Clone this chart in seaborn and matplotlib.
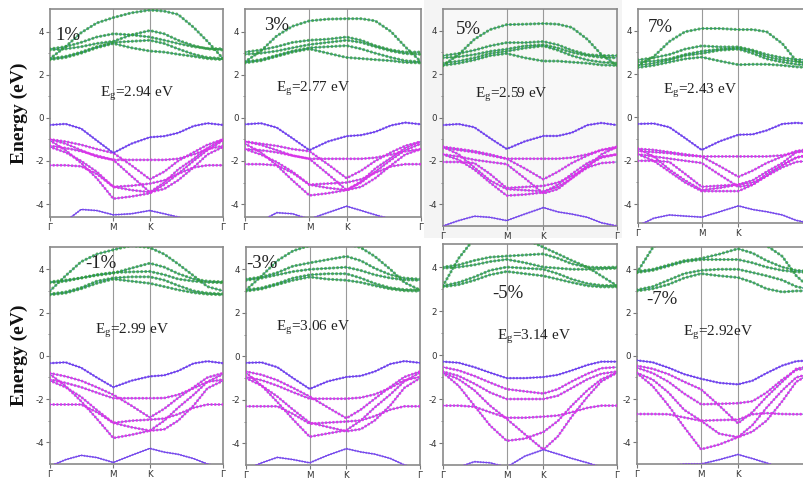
import matplotlib
matplotlib.use("Agg")
import matplotlib.pyplot as plt
import seaborn as sns
import pandas as pd
from matplotlib.patches import Rectangle

# ---------------- data ----------------
k_nodes = [0, 0.09, 0.18, 0.27, 0.366, 0.47, 0.577, 0.66, 0.74, 0.83, 0.91, 1.0]
hs_labels = ["Γ", "M", "K", "Γ"]
hs_pos = [0, 0.366, 0.577, 1.0]
strain_labels = ["1%", "3%", "5%", "7%", "-1%", "-3%", "-5%", "-7%"]
gap_values = ["2.94 eV", "2.77 eV", "2.59 eV", "2.43 eV", "2.99 eV", "3.06 eV", "3.14 eV", "2.92eV"]

# panel 1 (1%)
cb_1 = [[2.75, 3.3, 3.95, 4.4, 4.65, 4.87, 5.0, 4.95, 4.8, 4.2, 3.55, 2.75],
        [3.2, 3.3, 3.5, 3.75, 3.9, 3.85, 3.75, 3.6, 3.45, 3.3, 3.22, 3.2],
        [3.15, 3.2, 3.3, 3.45, 3.55, 3.85, 4.05, 3.9, 3.6, 3.35, 3.2, 3.15],
        [2.75, 2.85, 3.05, 3.3, 3.5, 3.55, 3.6, 3.45, 3.2, 2.95, 2.8, 2.75],
        [2.7, 2.8, 3.0, 3.25, 3.45, 3.25, 3.1, 3.05, 2.95, 2.85, 2.75, 2.7]]
vt_1 = [-0.33, -0.28, -0.5, -1.05, -1.63, -1.2, -0.9, -0.85, -0.7, -0.38, -0.25, -0.33]
vb_1 = [[-1.0, -1.1, -1.25, -1.45, -1.63, -2.2, -2.85, -2.5, -2.0, -1.6, -1.25, -1.0],
        [-1.3, -1.4, -1.55, -1.75, -1.95, -1.95, -1.95, -1.95, -1.9, -1.7, -1.45, -1.3],
        [-2.2, -2.2, -2.25, -2.6, -3.2, -3.15, -3.05, -2.9, -2.6, -2.3, -2.2, -2.2],
        [-1.05, -1.5, -2.1, -2.8, -3.75, -3.65, -3.5, -3.1, -2.6, -2.0, -1.5, -1.05],
        [-1.35, -1.6, -2.0, -2.5, -3.2, -3.35, -3.45, -3.3, -2.9, -2.3, -1.7, -1.35],
        [-1.0, -1.2, -1.5, -1.8, -1.95, -2.7, -3.45, -3.0, -2.4, -1.9, -1.4, -1.0]]
low_1 = [-5.2, -4.8, -4.25, -4.3, -4.5, -4.45, -4.3, -4.45, -4.6, -4.8, -5.0, -5.2]

# panel 2 (3%)
cb_2 = [[2.6, 3.1, 3.8, 4.25, 4.5, 4.58, 4.6, 4.6, 4.5, 4.0, 3.3, 2.6],
        [3.05, 3.15, 3.3, 3.5, 3.6, 3.65, 3.75, 3.6, 3.35, 3.15, 3.05, 3.05],
        [2.95, 3.0, 3.1, 3.25, 3.4, 3.5, 3.6, 3.5, 3.3, 3.1, 2.98, 2.95],
        [2.6, 2.7, 2.9, 3.1, 3.25, 3.3, 3.35, 3.2, 3.0, 2.8, 2.65, 2.6],
        [2.55, 2.65, 2.85, 3.05, 3.2, 3.0, 2.8, 2.75, 2.7, 2.65, 2.57, 2.55]]
vt_2 = [-0.3, -0.25, -0.45, -0.95, -1.5, -1.1, -0.85, -0.8, -0.65, -0.35, -0.22, -0.3]
vb_2 = [[-1.1, -1.2, -1.3, -1.45, -1.55, -2.15, -2.8, -2.45, -2.0, -1.6, -1.3, -1.1],
        [-1.45, -1.5, -1.6, -1.75, -1.9, -1.9, -1.9, -1.9, -1.85, -1.7, -1.55, -1.45],
        [-2.15, -2.15, -2.2, -2.55, -3.1, -3.05, -3.0, -2.85, -2.55, -2.25, -2.15, -2.15],
        [-1.2, -1.6, -2.2, -2.9, -3.6, -3.5, -3.35, -3.0, -2.5, -1.95, -1.5, -1.2],
        [-1.45, -1.7, -2.05, -2.5, -3.1, -3.25, -3.35, -3.2, -2.8, -2.2, -1.7, -1.45],
        [-1.1, -1.25, -1.5, -1.75, -1.9, -2.6, -3.35, -2.95, -2.35, -1.85, -1.4, -1.1]]
low_2 = [-5.2, -4.8, -4.4, -4.45, -4.7, -4.4, -4.1, -4.3, -4.5, -4.7, -5.0, -5.2]

# panel 3 (5%)
cb_3 = [[2.4, 2.9, 3.6, 4.05, 4.28, 4.3, 4.33, 4.3, 4.15, 3.6, 2.9, 2.4],
        [2.85, 2.95, 3.1, 3.3, 3.45, 3.45, 3.5, 3.35, 3.1, 2.9, 2.85, 2.85],
        [2.75, 2.8, 2.9, 3.05, 3.15, 3.3, 3.35, 3.2, 3.0, 2.85, 2.77, 2.75],
        [2.5, 2.6, 2.75, 2.95, 3.05, 3.2, 3.3, 3.1, 2.85, 2.65, 2.55, 2.5],
        [2.4, 2.5, 2.65, 2.85, 2.95, 2.75, 2.6, 2.6, 2.55, 2.5, 2.42, 2.4]]
vt_3 = [-0.35, -0.3, -0.45, -0.95, -1.45, -1.1, -0.85, -0.85, -0.7, -0.35, -0.25, -0.35]
vb_3 = [[-1.35, -1.45, -1.55, -1.7, -1.9, -2.35, -2.85, -2.5, -2.1, -1.75, -1.5, -1.35],
        [-1.4, -1.5, -1.6, -1.75, -1.9, -1.9, -1.9, -1.9, -1.85, -1.7, -1.5, -1.4],
        [-2.05, -2.05, -2.1, -2.6, -3.25, -3.2, -3.15, -3.0, -2.7, -2.3, -2.1, -2.05],
        [-1.7, -1.95, -2.4, -3.0, -3.6, -3.55, -3.45, -3.1, -2.6, -2.1, -1.8, -1.7],
        [-1.7, -1.8, -1.95, -2.05, -2.15, -2.8, -3.5, -3.3, -2.8, -2.2, -1.85, -1.7],
        [-1.35, -1.7, -2.3, -2.9, -3.3, -3.35, -3.4, -3.2, -2.8, -2.3, -1.7, -1.35]]
low_3 = [-5.0, -4.75, -4.55, -4.6, -4.75, -4.45, -4.15, -4.35, -4.45, -4.6, -4.85, -5.0]

# panel 4 (7%)
cb_4 = [[2.4, 2.8, 3.5, 3.95, 4.1, 4.1, 4.05, 4.05, 3.95, 3.4, 2.6, 2.4],
        [2.65, 2.75, 2.9, 3.15, 3.3, 3.25, 3.25, 3.1, 2.9, 2.75, 2.67, 2.65],
        [2.55, 2.6, 2.7, 2.9, 3.05, 3.15, 3.2, 3.05, 2.8, 2.65, 2.57, 2.55],
        [2.4, 2.5, 2.65, 2.85, 2.95, 3.1, 3.15, 2.95, 2.7, 2.55, 2.45, 2.4],
        [2.3, 2.4, 2.55, 2.7, 2.78, 2.6, 2.43, 2.45, 2.45, 2.4, 2.33, 2.3]]
vt_4 = [-0.3, -0.28, -0.45, -0.95, -1.5, -1.1, -0.8, -0.78, -0.6, -0.3, -0.25, -0.3]
vb_4 = [[-1.45, -1.5, -1.6, -1.7, -1.8, -2.25, -2.74, -2.45, -2.1, -1.8, -1.55, -1.45],
        [-1.55, -1.6, -1.65, -1.75, -1.8, -1.8, -1.8, -1.8, -1.8, -1.75, -1.6, -1.55],
        [-2.0, -2.0, -2.05, -2.6, -3.2, -3.15, -3.1, -3.0, -2.7, -2.3, -2.05, -2.0],
        [-1.7, -2.0, -2.5, -3.0, -3.4, -3.4, -3.4, -3.1, -2.6, -2.2, -1.85, -1.7],
        [-1.7, -1.8, -1.9, -2.0, -2.1, -2.65, -3.2, -3.1, -2.7, -2.2, -1.85, -1.7],
        [-1.45, -1.8, -2.4, -2.9, -3.35, -3.25, -3.1, -2.9, -2.5, -2.1, -1.6, -1.45]]
low_4 = [-5.0, -4.65, -4.5, -4.55, -4.6, -4.35, -4.08, -4.25, -4.35, -4.5, -4.75, -4.9]

# panel 5 (-1%)
cb_5 = [[3.0, 3.7, 4.35, 4.7, 4.9, 5.1, 5.0, 4.7, 4.25, 3.7, 3.2, 3.0],
        [3.42, 3.5, 3.6, 3.72, 3.82, 4.05, 4.28, 4.1, 3.8, 3.55, 3.45, 3.42],
        [3.38, 3.45, 3.6, 3.75, 3.85, 3.88, 3.9, 3.75, 3.55, 3.45, 3.4, 3.38],
        [2.86, 2.95, 3.15, 3.45, 3.6, 3.65, 3.65, 3.5, 3.25, 3.0, 2.9, 2.86],
        [2.82, 2.9, 3.1, 3.35, 3.55, 3.45, 3.35, 3.2, 3.05, 2.92, 2.85, 2.82]]
vt_5 = [-0.34, -0.3, -0.55, -1.0, -1.45, -1.15, -0.95, -0.9, -0.7, -0.35, -0.25, -0.34]
vb_5 = [[-0.8, -0.95, -1.15, -1.45, -1.8, -2.3, -2.85, -2.45, -1.95, -1.45, -1.0, -0.8],
        [-1.1, -1.25, -1.45, -1.7, -1.96, -1.96, -1.96, -1.95, -1.8, -1.5, -1.2, -1.1],
        [-2.25, -2.25, -2.25, -2.6, -3.1, -3.0, -2.95, -2.9, -2.7, -2.4, -2.25, -2.25],
        [-0.85, -1.4, -2.1, -2.9, -3.8, -3.65, -3.46, -3.0, -2.4, -1.8, -1.2, -0.85],
        [-1.15, -1.45, -1.9, -2.5, -3.1, -3.3, -3.46, -3.4, -3.0, -2.3, -1.5, -1.15]]
low_5 = [-5.1, -4.8, -4.6, -4.7, -4.93, -4.6, -4.28, -4.45, -4.55, -4.75, -5.0, -5.2]

# panel 6 (-3%)
cb_6 = [[3.05, 3.7, 4.4, 4.85, 5.1, 5.2, 5.2, 5.0, 4.6, 4.0, 3.4, 3.05],
        [3.55, 3.65, 3.85, 4.15, 4.3, 4.45, 4.6, 4.4, 4.05, 3.75, 3.6, 3.55],
        [3.5, 3.6, 3.75, 3.9, 4.0, 4.05, 4.1, 3.95, 3.75, 3.6, 3.52, 3.5],
        [3.05, 3.15, 3.35, 3.6, 3.75, 3.8, 3.8, 3.6, 3.35, 3.15, 3.07, 3.05],
        [3.0, 3.1, 3.3, 3.5, 3.65, 3.55, 3.5, 3.4, 3.25, 3.1, 3.02, 3.0]]
vt_6 = [-0.3, -0.28, -0.5, -1.0, -1.5, -1.15, -0.95, -0.9, -0.7, -0.35, -0.22, -0.3]
vb_6 = [[-0.7, -0.85, -1.1, -1.45, -1.85, -2.35, -2.85, -2.45, -1.95, -1.4, -0.95, -0.7],
        [-0.95, -1.1, -1.35, -1.65, -1.95, -1.95, -1.95, -1.9, -1.75, -1.45, -1.1, -0.95],
        [-2.3, -2.3, -2.3, -2.65, -3.1, -3.05, -3.0, -2.95, -2.75, -2.45, -2.3, -2.3],
        [-0.75, -1.35, -2.1, -2.9, -3.7, -3.55, -3.4, -2.95, -2.35, -1.75, -1.15, -0.75],
        [-1.0, -1.35, -1.85, -2.45, -3.05, -3.25, -3.45, -3.35, -2.95, -2.25, -1.45, -1.0]]
low_6 = [-5.2, -4.9, -4.65, -4.75, -4.9, -4.55, -4.25, -4.4, -4.5, -4.7, -5.0, -5.2]

# panel 7 (-5%)
cb_7 = [[3.15, 4.4, 5.3, 5.6, 5.6, 5.3, 4.9, 4.6, 4.3, 4.0, 3.6, 3.15],
        [4.0, 4.1, 4.3, 4.45, 4.5, 4.55, 4.6, 4.4, 4.15, 4.0, 3.98, 4.0],
        [3.95, 4.0, 4.1, 4.25, 4.35, 4.2, 4.0, 3.95, 3.9, 3.9, 3.92, 3.95],
        [3.15, 3.3, 3.55, 3.85, 4.0, 3.95, 3.9, 3.7, 3.45, 3.25, 3.17, 3.15],
        [3.1, 3.2, 3.4, 3.65, 3.8, 3.7, 3.6, 3.45, 3.3, 3.15, 3.1, 3.1]]
vt_7 = [-0.3, -0.35, -0.55, -0.8, -1.05, -1.05, -1.0, -0.9, -0.7, -0.45, -0.3, -0.3]
vb_7 = [[-0.55, -0.7, -0.95, -1.25, -1.55, -1.65, -1.75, -1.55, -1.2, -0.85, -0.6, -0.55],
        [-0.75, -0.95, -1.3, -1.7, -2.0, -2.0, -2.0, -1.85, -1.5, -1.1, -0.85, -0.75],
        [-2.3, -2.3, -2.35, -2.6, -2.85, -2.85, -2.8, -2.75, -2.6, -2.4, -2.3, -2.3],
        [-0.8, -1.4, -2.3, -3.2, -3.9, -3.8, -3.5, -3.0, -2.3, -1.6, -1.1, -0.8],
        [-0.8, -1.1, -1.6, -2.3, -2.9, -3.6, -4.3, -3.7, -2.8, -1.9, -1.2, -0.8]]
low_7 = [-5.3, -5.1, -4.85, -4.9, -5.1, -4.6, -4.3, -4.5, -4.7, -4.9, -5.1, -5.3]

# panel 8 (-7%)
cb_8 = [[3.85, 5.0, 5.6, 5.8, 5.8, 5.7, 5.5, 5.3, 5.1, 4.6, 3.7, 3.05],
        [3.9, 4.0, 4.2, 4.4, 4.5, 4.7, 4.95, 4.75, 4.4, 4.1, 3.95, 3.9],
        [3.85, 3.95, 4.15, 4.35, 4.45, 4.45, 4.45, 4.3, 4.1, 3.95, 3.88, 3.85],
        [3.05, 3.2, 3.5, 3.8, 3.95, 4.0, 4.0, 3.85, 3.7, 3.5, 3.2, 3.05],
        [3.0, 3.1, 3.3, 3.6, 3.8, 3.7, 3.62, 3.4, 3.1, 2.95, 3.0, 3.0]]
vt_8 = [-0.21, -0.3, -0.55, -0.85, -1.06, -1.25, -1.32, -1.15, -0.8, -0.45, -0.25, -0.21]
vb_8 = [[-0.46, -0.6, -0.85, -1.2, -1.55, -2.3, -3.12, -2.6, -1.9, -1.2, -0.6, -0.46],
        [-0.55, -0.8, -1.2, -1.75, -2.24, -2.22, -2.19, -2.1, -1.7, -1.1, -0.65, -0.55],
        [-2.69, -2.69, -2.7, -2.85, -3.0, -2.97, -2.95, -2.7, -2.65, -2.69, -2.7, -2.69],
        [-0.8, -1.4, -2.3, -3.3, -4.32, -4.1, -3.76, -3.2, -2.4, -1.6, -1.0, -0.8],
        [-0.79, -1.1, -1.7, -2.5, -3.0, -3.6, -3.76, -3.5, -3.0, -2.1, -1.2, -0.79]]
low_8 = [-5.5, -5.3, -5.1, -5.0, -5.0, -4.8, -4.56, -4.75, -4.95, -5.2, -5.4, -5.5]

cb_all = [cb_1, cb_2, cb_3, cb_4, cb_5, cb_6, cb_7, cb_8]
vt_all = [vt_1, vt_2, vt_3, vt_4, vt_5, vt_6, vt_7, vt_8]
vb_all = [vb_1, vb_2, vb_3, vb_4, vb_5, vb_6, vb_7, vb_8]
low_all = [low_1, low_2, low_3, low_4, low_5, low_6, low_7, low_8]

# ---------------- layout (pixels) ----------------
W, H = 804, 479
boxes = [(50, 9, 223, 217), (245, 9, 421, 217), (443, 9, 617, 226), (638, 9, 812, 223),
         (50, 247, 223, 464), (246, 247, 420, 465), (443, 244, 617, 465), (637, 247, 812, 464)]
ylims = [(-4.6, 5.05), (-4.6, 5.05), (-5.0, 5.0), (-4.87, 5.0),
         (-5.0, 5.03), (-5.0, 5.03), (-5.0, 5.05), (-5.0, 5.03)]
pct_pos = [(55, 35), (264, 26), (456, 30), (648, 28), (85, 264), (246, 263), (492, 293), (646, 300)]
gap_pos = [(100, 94), (276, 89), (475, 95), (663, 91), (95, 331), (276, 328), (497, 337), (683, 333)]

sns.set_style("ticks")
plt.rcParams["axes.unicode_minus"] = False
plt.rcParams["font.family"] = ["DejaVu Sans"]

fig = plt.figure(figsize=(W / 100, H / 100), dpi=100)
fig.patch.set_facecolor("white")
fig.patches.append(Rectangle((424 / W, 1 - 238 / H), (622 - 424) / W, 238 / H,
                             transform=fig.transFigure, facecolor="#f4f4f4",
                             edgecolor="none", zorder=-5))

GREEN = "#2f9a36"
MAGENTA = "#e030ea"
PURPLE = "#7a36f0"
LINE = "#4a98c4"
DOTS = (0, (0.01, 1.25))


def long_df(bands):
    rows = []
    for b, vals in enumerate(bands):
        for k, e in zip(k_nodes, vals):
            rows.append({"k": k, "E": e, "band": b})
    return pd.DataFrame(rows)


def draw(ax, bands, color, lw, alpha, line_color=LINE):
    df = long_df(bands)
    sns.lineplot(data=df, x="k", y="E", units="band", estimator=None, sort=False,
                 color=line_color, lw=0.7, ax=ax, legend=False, zorder=2)
    sns.lineplot(data=df, x="k", y="E", units="band", estimator=None, sort=False,
                 color=color, lw=lw, alpha=alpha, linestyle=DOTS,
                 dash_capstyle="round", ax=ax, legend=False, zorder=3)


for i in range(8):
    l, t, r, b = boxes[i]
    ax = fig.add_axes([l / W, 1 - b / H, (r - l) / W, (b - t) / H])
    ax.set_zorder(1)
    ax.set_facecolor("#f8f8f8" if i == 2 else "white")
    for x in hs_pos[1:3]:
        ax.axvline(x, color="#9a9a9a", lw=0.8, zorder=1)
    draw(ax, cb_all[i], GREEN, 2.3, 0.75)
    draw(ax, vb_all[i], MAGENTA, 2.1, 0.9)
    draw(ax, [vt_all[i]], PURPLE, 1.9, 0.85, line_color="#3b50e0")
    draw(ax, [low_all[i]], "#8a3cf0", 1.6, 0.8, line_color="#3b50e0")
    ax.set_xlim(0, 1)
    ax.set_ylim(*ylims[i])
    ax.set_xlabel("")
    ax.set_ylabel("")
    ax.set_xticks(hs_pos)
    labels = list(hs_labels)
    if i in (3, 7):
        labels[-1] = ""
    ax.set_xticklabels(labels)
    ax.set_yticks([-4, -2, 0, 2, 4])
    ax.set_yticks([-3, -1, 1, 3], minor=True)
    ax.tick_params(axis="both", which="major", labelsize=6.3, labelcolor="#333333",
                   color="#777777", length=3, width=0.8, pad=1.5)
    ax.tick_params(axis="x", which="major", pad=1)
    ax.tick_params(axis="y", which="minor", color="#777777", length=1.8, width=0.6)
    for s in ax.spines.values():
        s.set_color("#8a8a8a")
        s.set_linewidth(1.2)
    px, py = pct_pos[i]
    fig.text(px / W, 1 - py / H, strain_labels[i], fontsize=13.5,
             family="Liberation Serif", color="#222222", ha="left", va="center", zorder=5)
    gx, gy = gap_pos[i]
    fig.text(gx / W, 1 - gy / H, r"E$_{\mathregular{g}}$=" + gap_values[i], fontsize=11,
             family="Liberation Serif", color="#222222", ha="left", va="center", zorder=5)

for yc in (113, 355):
    fig.text(19 / W, 1 - yc / H, "Energy (eV)", rotation=90, fontsize=14,
             family="Liberation Serif", fontweight="bold", ha="center", va="center",
             color="#111111")

fig.savefig("out.png", dpi=100, facecolor="white")
